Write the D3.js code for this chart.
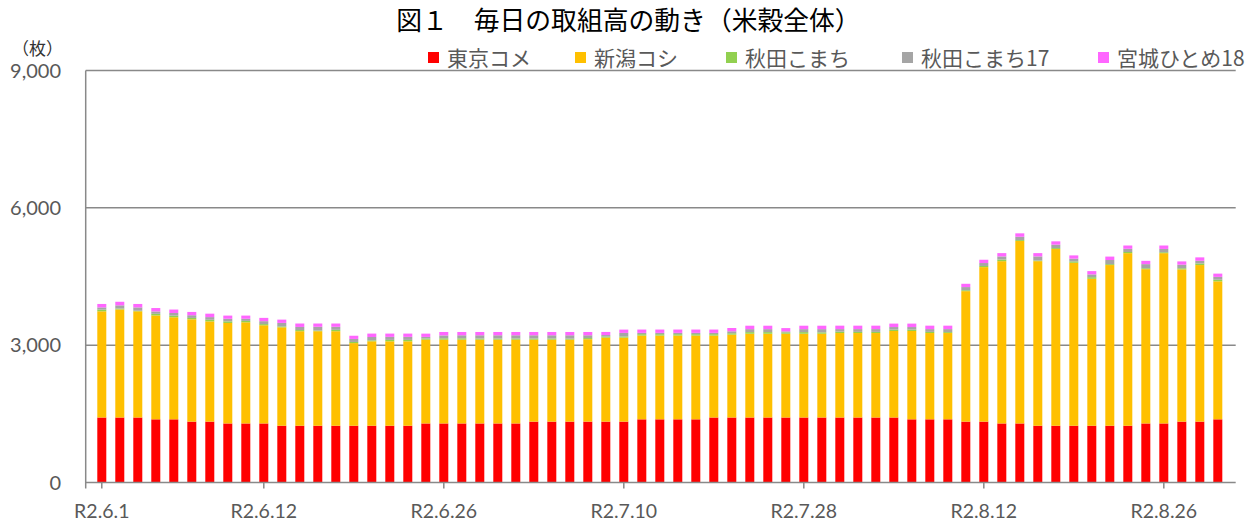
<!DOCTYPE html>
<html>
<head>
<meta charset="utf-8">
<script src="https://cdn.jsdelivr.net/npm/d3@7"></script>
<style>
  html, body { margin: 0; padding: 0; background: #ffffff; }
  svg { display: block; }
</style>
</head>
<body>
<svg id="chart" width="1257" height="522"></svg>
<script>
// ---- data ----
const categories = [
  "R2.6.1","R2.6.2","R2.6.3","R2.6.4","R2.6.5","R2.6.8","R2.6.9","R2.6.10","R2.6.11","R2.6.12",
  "R2.6.15","R2.6.16","R2.6.17","R2.6.18","R2.6.19","R2.6.22","R2.6.23","R2.6.24","R2.6.25","R2.6.26",
  "R2.6.29","R2.6.30","R2.7.1","R2.7.2","R2.7.3","R2.7.6","R2.7.7","R2.7.8","R2.7.9","R2.7.10",
  "R2.7.13","R2.7.14","R2.7.15","R2.7.16","R2.7.17","R2.7.20","R2.7.21","R2.7.22","R2.7.27","R2.7.28",
  "R2.7.29","R2.7.30","R2.7.31","R2.8.3","R2.8.4","R2.8.5","R2.8.6","R2.8.7","R2.8.11","R2.8.12",
  "R2.8.13","R2.8.14","R2.8.17","R2.8.18","R2.8.19","R2.8.20","R2.8.21","R2.8.24","R2.8.25","R2.8.26",
  "R2.8.27","R2.8.28","R2.8.31"
];
const tickLabels = ["R2.6.1","R2.6.12","R2.6.26","R2.7.10","R2.7.28","R2.8.12","R2.8.26"];
const yTicks = [0, 3000, 6000, 9000];

const seriesNames = ["東京コメ", "新潟コシ", "秋田こまち", "秋田こまち17", "宮城ひとめ18"];

const tokyoKome = [1420,1420,1420,1380,1380,1330,1330,1290,1290,1290,
  1240,1240,1240,1240,1240,1240,1240,1240,1290,1290,
  1290,1290,1290,1290,1330,1330,1330,1330,1330,1330,
  1380,1380,1380,1380,1420,1420,1420,1420,1420,1420,
  1420,1420,1420,1420,1420,1380,1380,1380,1330,1330,
  1290,1290,1240,1240,1240,1240,1240,1240,1290,1290,
  1330,1330,1380];
const niigataKoshi = [2320,2360,2320,2270,2230,2235,2190,2195,2210,2145,
  2150,2065,2065,2065,1805,1845,1845,1845,1830,1830,
  1830,1830,1830,1830,1790,1790,1790,1800,1835,1835,
  1830,1830,1830,1830,1790,1810,1830,1830,1830,1830,
  1830,1845,1845,1845,1890,1930,1885,1885,2850,3375,
  3545,3985,3595,3860,3560,3210,3510,3770,3370,3720,
  3325,3420,3015];
const akitaKomachi = [35,20,12,35,35,30,35,35,30,25,
  20,25,15,30,25,20,30,30,25,30,
  30,25,25,25,25,25,22,25,22,25,
  30,30,30,30,30,30,35,35,30,35,
  30,30,25,25,30,30,25,20,20,25,
  35,20,15,20,30,35,20,25,20,20,
  25,35,35];
const akitaKomachi17 = [50,70,73,51,58,59,58,56,46,64,
  76,68,81,66,66,73,66,66,35,63,
  66,71,71,71,71,71,74,61,34,78,
  29,29,29,29,29,43,65,65,21,65,
  70,56,61,61,56,56,61,66,69,64,
  69,73,89,76,59,61,90,70,90,72,
  78,58,61];
const miyagiHitome18 = [75,78,75,75,75,72,75,70,70,72,
  72,75,72,72,70,75,72,72,72,75,
  72,72,72,72,72,72,72,72,68,72,
  72,72,72,72,72,72,75,75,72,75,
  75,75,75,75,75,75,75,75,72,72,
  72,75,72,72,72,72,75,72,72,75,
  72,75,72];
const seriesColors = ["#FF0000", "#FFC000", "#92D050", "#A5A5A5", "#FF66FF"];

// ---- build table ----
const seriesValues = [tokyoKome, niigataKoshi, akitaKomachi, akitaKomachi17, miyagiHitome18];
const table = categories.map((c, i) => {
  const row = { cat: c };
  seriesNames.forEach((n, k) => { row[n] = seriesValues[k][i]; });
  return row;
});
const stacked = d3.stack().keys(seriesNames)(table);

// ---- layout ----
const svg = d3.select("#chart");
const plot = { left: 85.7, right: 1235.7, top: 70.5, bottom: 482.5 };
const textColor = "#595959";
const gridColor = "#898989";
const latin = "Lato, 'Noto Sans', sans-serif";
const cjk = "'Noto Sans CJK JP', 'Noto Sans', sans-serif";

const x = d3.scaleBand()
  .domain(categories)
  .range([plot.left, plot.right])
  .paddingInner(0.5)
  .paddingOuter(0.694)
  .align(0.464);

const y = d3.scaleLinear().domain([0, 9000]).range([plot.bottom, plot.top]);

// gridlines
svg.append("g")
  .selectAll("line")
  .data(yTicks.filter(d => d > 0))
  .join("line")
  .attr("x1", plot.left).attr("x2", plot.right)
  .attr("y1", d => y(d)).attr("y2", d => y(d))
  .attr("stroke", gridColor).attr("stroke-width", 1.5);

// bars
svg.append("g")
  .selectAll("g")
  .data(stacked)
  .join("g")
  .attr("fill", (d, i) => seriesColors[i])
  .selectAll("rect")
  .data(d => d)
  .join("rect")
  .attr("x", d => x(d.data.cat))
  .attr("width", x.bandwidth())
  .attr("y", d => y(d[1]))
  .attr("height", d => Math.max(0, y(d[0]) - y(d[1])));

// y axis line
svg.append("line")
  .attr("x1", plot.left).attr("x2", plot.left)
  .attr("y1", plot.top).attr("y2", plot.bottom)
  .attr("stroke", gridColor).attr("stroke-width", 1.5);

// y tick labels
svg.append("g")
  .selectAll("text")
  .data(yTicks)
  .join("text")
  .attr("x", 61)
  .attr("y", d => y(d))
  .attr("dy", "0.36em")
  .attr("text-anchor", "end")
  .attr("fill", textColor)
  .style("font-family", latin)
  .style("font-size", "20px")
  .text(d => d3.format(",")(d));

// unit label
svg.append("text")
  .attr("x", 63).attr("y", 55)
  .attr("text-anchor", "end")
  .attr("fill", "#333333")
  .style("font-family", cjk)
  .style("font-size", "17px")
  .text("（枚）");

// x axis
const xAxis = d3.axisBottom(x)
  .tickValues(tickLabels)
  .tickSize(6)
  .tickSizeOuter(0)
  .tickPadding(16);
const gx = svg.append("g")
  .attr("transform", `translate(0,${plot.bottom})`)
  .call(xAxis);
gx.select(".domain").remove();
gx.append("path")
  .attr("d", `M${plot.left},6V0H${plot.right}`)
  .attr("fill", "none")
  .attr("stroke", gridColor).attr("stroke-width", 1.5);
gx.selectAll(".tick line").attr("stroke", gridColor).attr("stroke-width", 1.5);
gx.selectAll(".tick text")
  .attr("fill", textColor)
  .style("font-family", latin)
  .style("font-size", "19.5px");

// title
svg.append("text")
  .attr("x", 628.5).attr("y", 30)
  .attr("text-anchor", "middle")
  .attr("fill", "#000000")
  .style("font-family", cjk)
  .style("font-weight", "400")
  .style("font-size", "25.8px")
  .text("図１　毎日の取組高の動き（米穀全体）");

// legend
const legendX = [428, 575, 726, 902, 1098];
const lg = svg.append("g")
  .selectAll("g")
  .data(seriesNames)
  .join("g")
  .attr("transform", (d, i) => `translate(${legendX[i]},58)`);
lg.append("rect")
  .attr("x", 0).attr("y", -6)
  .attr("width", 11).attr("height", 11)
  .attr("fill", (d, i) => seriesColors[i]);
lg.append("text")
  .attr("x", 19).attr("y", 0)
  .attr("dy", "0.36em")
  .attr("fill", textColor)
  .style("font-family", cjk)
  .style("font-size", "21px")
  .text(d => d);
</script>
</body>
</html>
